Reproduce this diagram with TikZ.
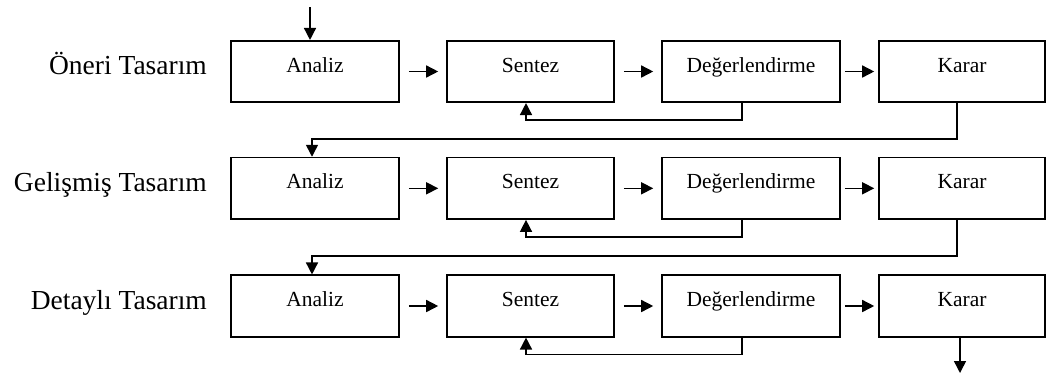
\documentclass[tikz,border=0pt]{standalone}
\usepackage{fontspec}
\setmainfont{Liberation Serif}
\usetikzlibrary{arrows.meta}
\begin{document}
\begin{tikzpicture}[x=1pt,y=-1pt,
  box/.style={draw, line width=1.6pt, minimum height=61.5pt, inner sep=0pt, text height=15pt, text depth=14pt, font=\fontsize{21.5}{24}\selectfont},
  lbl/.style={anchor=base east, inner sep=0pt, font=\fontsize{27.5}{30}\selectfont},
  arr/.style={line width=1.5pt, -{Triangle[length=12pt,width=12pt]}}]
\useasboundingbox (0,0) rectangle (1046,376);
\foreach \r/\y/\t in {1/71.5/{Öneri Tasarım},2/188.3/{Gelişmiş Tasarım},3/306/{Detaylı Tasarım}}{
  \node[lbl] (l\r) at (207,\y+3) {\t};
  \node[box, minimum width=168pt] (a\r) at (315,\y) {Analiz};
  \node[box, minimum width=167pt] (s\r) at (530.5,\y) {Sentez};
  \node[box, minimum width=178pt] (d\r) at (751,\y) {Değerlendirme};
  \node[box, minimum width=166pt] (k\r) at (962,\y) {Karar};
  \draw[arr] ([xshift=9pt]a\r.east) -- ([xshift=-8pt]s\r.west);
  \draw[arr] ([xshift=9pt]s\r.east) -- ([xshift=-8pt]d\r.west);
  \draw[arr] ([xshift=4pt]d\r.east) -- ([xshift=-4pt]k\r.west);
  \draw[arr] ([xshift=-9pt]d\r.south) -- ++(0,17) -| ([xshift=-4.5pt]s\r.south);
}
\draw[arr] ([xshift=-5pt]k1.south) -- ++(0,36) -| ([xshift=-3pt]a2.north);
\draw[arr] ([xshift=-5pt]k2.south) -- ++(0,36) -| ([xshift=-3pt]a3.north);
\coordinate (in) at (310,7);
\coordinate (out) at (960,373);
\draw[arr] (in) -- ([xshift=-5pt]a1.north);
\draw[arr] ([xshift=-2pt]k3.south) -- (out);
\end{tikzpicture}
\end{document}
